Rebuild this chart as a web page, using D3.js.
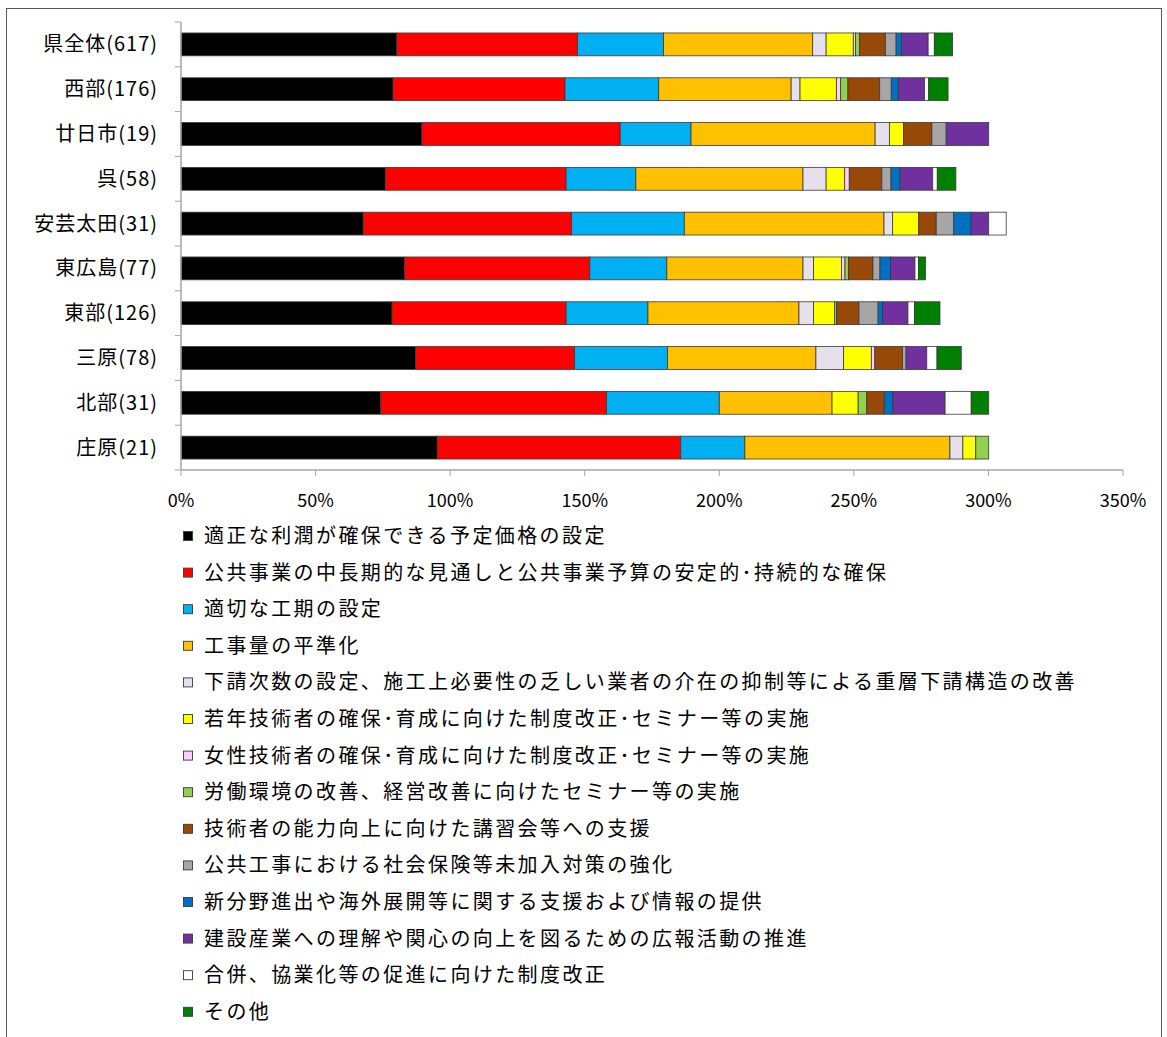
<!DOCTYPE html>
<html><head><meta charset="utf-8">
<script src="https://cdn.jsdelivr.net/npm/d3@7"></script>
<style>
body{margin:0;background:#fff;}
svg text{font-family:"Noto Sans CJK JP","Noto Sans",sans-serif;}
</style></head>
<body>
<svg id="c" width="1167" height="1037"></svg>
<script>
const categories = ["県全体(617)","西部(176)","廿日市(19)","呉(58)","安芸太田(31)","東広島(77)","東部(126)","三原(78)","北部(31)","庄原(21)"];
const seriesNames = [
 "適正な利潤が確保できる予定価格の設定",
 "公共事業の中長期的な見通しと公共事業予算の安定的･持続的な確保",
 "適切な工期の設定",
 "工事量の平準化",
 "下請次数の設定、施工上必要性の乏しい業者の介在の抑制等による重層下請構造の改善",
 "若年技術者の確保･育成に向けた制度改正･セミナー等の実施",
 "女性技術者の確保･育成に向けた制度改正･セミナー等の実施",
 "労働環境の改善、経営改善に向けたセミナー等の実施",
 "技術者の能力向上に向けた講習会等への支援",
 "公共工事における社会保険等未加入対策の強化",
 "新分野進出や海外展開等に関する支援および情報の提供",
 "建設産業への理解や関心の向上を図るための広報活動の推進",
 "合併、協業化等の促進に向けた制度改正",
 "その他"
];
const colors = ["#000000","#FF0000","#00B0F0","#FFC000","#E6E0EC","#FFFF00","#FFCCFF","#92D050","#984807","#A6A6A6","#0070C0","#7030A0","#FFFFFF","#008000"];
// values in percent, per series, in category order
const s01 = [80.2, 78.8, 89.5, 75.9, 67.7, 83.1, 78.4, 87.2, 74.2, 95.2];
const s02 = [67.1, 63.9, 73.7, 67.2, 77.4, 68.8, 64.7, 59.0, 83.9, 90.5];
const s03 = [32.0, 34.8, 26.3, 25.9, 41.9, 28.6, 30.4, 34.6, 41.9, 23.8];
const s04 = [55.4, 49.2, 68.4, 62.1, 74.2, 50.6, 56.1, 55.1, 41.9, 76.2];
const s05 = [5.0, 3.3, 5.3, 8.6, 3.2, 3.9, 5.4, 10.3, 0, 4.8];
const s06 = [10.1, 13.5, 5.3, 6.9, 9.7, 10.4, 7.8, 10.3, 9.7, 4.8];
const s07 = [0.8, 1.6, 0, 1.7, 0, 1.3, 0, 1.3, 0, 0];
const s08 = [1.5, 2.7, 0, 0, 0, 1.3, 0.8, 0, 3.2, 4.8];
const s09 = [9.6, 11.8, 10.5, 12.1, 6.5, 9.1, 8.3, 10.3, 6.5, 0];
const s10 = [4.0, 4.3, 5.3, 3.4, 6.5, 2.6, 7.1, 1.3, 0, 0];
const s11 = [2.0, 2.6, 0, 3.4, 6.5, 3.9, 1.6, 0, 3.2, 0];
const s12 = [9.9, 9.8, 15.8, 12.1, 6.5, 9.1, 9.5, 7.7, 19.4, 0];
const s13 = [2.3, 1.5, 0, 1.7, 6.5, 1.3, 2.4, 3.8, 9.7, 0];
const s14 = [6.8, 7.2, 0, 6.9, 0, 2.6, 9.5, 9.0, 6.5, 0];
const seriesValues = [s01,s02,s03,s04,s05,s06,s07,s08,s09,s10,s11,s12,s13,s14];
const xTicks = [0,50,100,150,200,250,300,350];
const xTickLabels = ["0%","50%","100%","150%","200%","250%","300%","350%"];

const svg = d3.select("#c");
// outer frame
svg.append("rect").attr("x",6.5).attr("y",8.5).attr("width",1155).attr("height",1100)
  .attr("fill","none").attr("stroke","#595959").attr("stroke-width",1);

const x = d3.scaleLinear().domain([0,350]).range([181,1123]);
const y = d3.scaleBand().domain(categories).range([22,470]).paddingInner(0.49).paddingOuter(0.245);

// stacked data
const keys = seriesNames.map((d,i)=>"k"+i);
const table = categories.map((c,ci)=>{
  const o = {cat:c};
  seriesValues.forEach((arr,si)=>{o["k"+si]=arr[ci];});
  return o;
});
const stack = d3.stack().keys(keys)(table);

const g = svg.append("g");
stack.forEach((layer,si)=>{
  g.selectAll(null).data(layer.filter(d=>d[1]-d[0]>0)).enter().append("rect")
    .attr("x",d=>x(d[0])).attr("width",d=>x(d[1])-x(d[0]))
    .attr("y",d=>y(d.data.cat)).attr("height",y.bandwidth())
    .attr("fill",colors[si]).attr("stroke","#3a3a3a").attr("stroke-width",0.8);
});

// y axis
const yAxisG = svg.append("g");
yAxisG.append("line").attr("x1",181).attr("x2",181).attr("y1",22).attr("y2",470)
  .attr("stroke","#A6A6A6").attr("stroke-width",1.5);
const bounds = d3.range(categories.length+1).map(i=>22 + i*y.step());
yAxisG.selectAll(".yt").data(bounds).enter().append("line")
  .attr("x1",175).attr("x2",181).attr("y1",d=>d).attr("y2",d=>d)
  .attr("stroke","#A6A6A6").attr("stroke-width",1);
yAxisG.selectAll(".yl").data(categories).enter().append("text")
  .attr("x",158).attr("y",d=>y(d)+y.bandwidth()/2).attr("dy","0.35em")
  .attr("text-anchor","end").attr("font-size",20).attr("letter-spacing",1)
  .attr("fill","#000").text(d=>d);

// x axis
const xAxisG = svg.append("g");
xAxisG.append("line").attr("x1",181).attr("x2",1123).attr("y1",470).attr("y2",470)
  .attr("stroke","#A6A6A6").attr("stroke-width",1.5);
xAxisG.selectAll(".xt").data(xTicks).enter().append("line")
  .attr("x1",d=>x(d)).attr("x2",d=>x(d)).attr("y1",470).attr("y2",476)
  .attr("stroke","#A6A6A6").attr("stroke-width",1);
xAxisG.selectAll(".xl").data(xTicks).enter().append("text")
  .attr("x",d=>x(d)).attr("y",501).attr("dy","0.35em").attr("text-anchor","middle")
  .attr("font-size",18).attr("fill","#000").text((d,i)=>xTickLabels[i]);

// legend
const lg = svg.append("g");
seriesNames.forEach((name,i)=>{
  const cy = 536 + i*36.6;
  lg.append("rect").attr("x",183.5).attr("y",cy-4.5).attr("width",9).attr("height",9)
    .attr("fill",colors[i]).attr("stroke","#3a3a3a").attr("stroke-width",0.9);
  lg.append("text").attr("x",204).attr("y",cy).attr("dy","0.35em")
    .attr("font-size",20).attr("letter-spacing",2.4).attr("fill","#000").text(name);
});
</script>
</body></html>
